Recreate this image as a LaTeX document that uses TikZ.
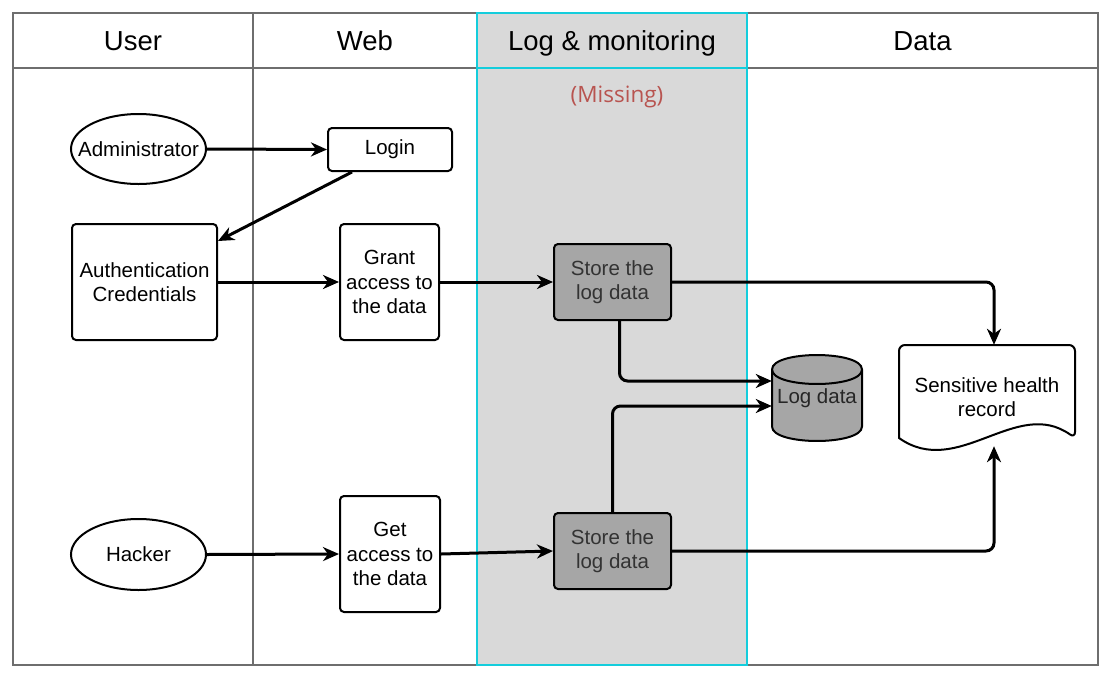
\documentclass[tikz,border=0pt]{standalone}
\usepackage{fontspec}
\setmainfont{Liberation Sans}
\newfontfamily\osans{Open Sans}
\usetikzlibrary{arrows.meta,shapes.geometric,calc}
\definecolor{lanegray}{HTML}{D9D9D9}
\definecolor{storegray}{HTML}{A6A6A6}
\definecolor{lanecyan}{HTML}{14CDDC}
\definecolor{framegray}{HTML}{6E6E6E}
\definecolor{missred}{HTML}{B85450}
\tikzset{
  body/.style={font=\fontsize{20.5}{24.5}\selectfont, align=center, inner sep=0pt},
  boxnode/.style={body, draw=black, line width=2pt, rounded corners=4pt, fill=white},
  storenode/.style={boxnode, fill=storegray, text=black!80},
  actor/.style={draw=black, line width=2pt, ellipse, fill=white, inner sep=0pt},
  plain/.style={body},
  header/.style={font=\fontsize{27.5}{32}\selectfont, inner sep=0pt, anchor=base},
  arr/.style={line width=3pt, -{Stealth[length=16pt,width=14pt,inset=5pt]}, rounded corners=8pt},
  shapeline/.style={draw=black, line width=2pt},
}
\begin{document}
\begin{tikzpicture}[x=1pt,y=-1pt]
\useasboundingbox (0,0) rectangle (1114,675);
% lanes
\fill[lanegray] (477,13) rectangle (747,665);
\draw[framegray, line width=1.6pt] (13,13) rectangle (1098,665);
\draw[framegray, line width=1.6pt] (13,68) -- (1098,68);
\draw[framegray, line width=1.6pt] (253,13) -- (253,665);
\draw[lanecyan, line width=2pt] (477,13) rectangle (747,665);
\draw[lanecyan, line width=2pt] (477,68) -- (747,68);
% headers
\node[header] (hUser) at (133,50) {User};
\node[header] (hWeb) at (365,50) {Web};
\node[header] (hLog) at (612,50) {Log \& monitoring};
\node[header] (hData) at (922.5,50) {Data};
\node[inner sep=0pt, text=missred, font=\osans\fontsize{22.5}{27}\selectfont] (miss) at (617,97) {(Missing)};
% nodes
\node[actor, minimum width=135pt, minimum height=70pt, label={[body]center:Administrator}] (admin) at (138.5,149) {};
\node[boxnode, minimum width=124pt, minimum height=43pt] (login) at (390,149.5) {Login};
\node[boxnode, minimum width=145pt, minimum height=116pt] (auth) at (144.5,282) {Authentication\\Credentials};
\node[boxnode, minimum width=99pt, minimum height=116pt] (grant) at (389.5,282) {Grant\\access to\\the data};
\node[storenode, minimum width=117pt, minimum height=76pt] (s1) at (612.5,282) {Store the\\log data};
\node[actor, minimum width=135pt, minimum height=71pt, label={[body]center:Hacker}] (hacker) at (138.5,554.5) {};
\node[boxnode, minimum width=100pt, minimum height=116pt] (get) at (390,554) {Get\\access to\\the data};
\node[storenode, minimum width=117pt, minimum height=76pt] (s2) at (612.5,551) {Store the\\log data};
% cylinder
\draw[shapeline, fill=storegray] (772,369.5) -- (772,426.5) .. controls (772,445.8) and (862,445.8) .. (862,426.5) -- (862,369.5) .. controls (862,350.2) and (772,350.2) .. (772,369.5) -- cycle;
\draw[shapeline] (772,369.5) .. controls (772,388.8) and (862,388.8) .. (862,369.5);
\node[plain, minimum width=90pt, minimum height=86pt, text=black!85] (db) at (817,398) {Log data};
% document
\draw[shapeline, fill=white] (899,438) [rounded corners=6pt] -- (899,345) -- (1075,345) -- (1075,438) [sharp corners] .. controls (1016.3,396.4) and (957.7,479.6) .. (899,438) -- cycle;
\node[plain, minimum width=176pt, minimum height=104pt] (doc) at (987,397) {Sensitive health\\record};
% connectors
\draw[arr] (admin.east) -- (login.west);
\draw[arr] ([xshift=-38pt]login.south) -- ([yshift=-18pt]auth.north east);
\draw[arr] (auth.east) -- (grant.west);
\draw[arr] (grant.east) -- (s1.west);
\draw[arr] (s1.east) -| ([xshift=7pt]doc.north);
\draw[arr] ([xshift=7pt]s1.south) |- ([yshift=17pt]db.west);
\draw[arr] (s2.north) |- ([yshift=-8pt]db.west);
\draw[arr] (hacker.east) -- (get.west);
\draw[arr] (get.east) -- (s2.west);
\draw[arr] (s2.east) -| ([xshift=7pt,yshift=3pt]doc.south);
\end{tikzpicture}
\end{document}
